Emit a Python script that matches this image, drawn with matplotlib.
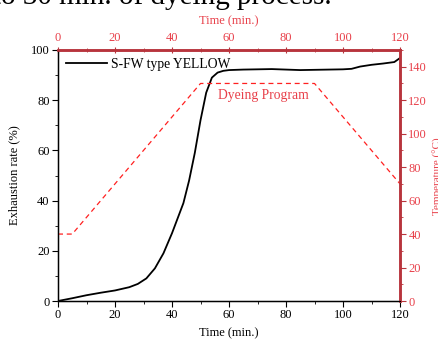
import matplotlib
matplotlib.use("Agg")
import matplotlib.pyplot as plt
from matplotlib.ticker import MultipleLocator

plt.rcParams['font.family'] = ['Liberation Serif', 'DejaVu Serif']

# Exhaustion curve
time_min = [0, 5, 10, 15, 20, 25, 28, 31, 34, 37, 40, 42, 44, 46, 48, 50, 52, 54,
            56, 58, 60, 65, 70, 75, 80, 85, 90, 95, 100, 103, 106, 110, 114, 118, 119, 120]
exhaustion = [0, 1.1, 2.3, 3.3, 4.2, 5.5, 6.8, 9.0, 13.0, 19.0, 27.0, 33.0, 39.0, 48.0,
              59.0, 72.0, 83.0, 89.0, 91.0, 91.7, 92.0, 92.2, 92.3, 92.4, 92.2, 92.0,
              92.1, 92.2, 92.3, 92.5, 93.4, 94.1, 94.6, 95.2, 96.0, 96.8]

# Dyeing program (temperature)
prog_time = [0, 5, 50, 90, 120]
prog_temp = [40, 40, 130, 130, 70]

red_txt = '#e8404a'
red_spine = '#b8343c'
red_line = '#ff2020'

fig = plt.figure(figsize=(4.38, 3.41), dpi=100)
ax = fig.add_axes([58/438, 1-301/341, 342/438, 251/341])

ax.plot(time_min, exhaustion, color='black', lw=1.3, label='S-FW type YELLOW')
ax.set_xlim(0, 120)
ax.set_ylim(0, 100)
ax.xaxis.set_major_locator(MultipleLocator(20))
ax.xaxis.set_minor_locator(MultipleLocator(10))
ax.yaxis.set_major_locator(MultipleLocator(20))
ax.yaxis.set_minor_locator(MultipleLocator(10))
ax.tick_params(axis='both', which='major', direction='out', length=4, labelsize=9, pad=2)
ax.tick_params(axis='both', which='minor', direction='out', length=2)
ax.tick_params(top=False, right=False)
ax.set_xlabel('Time (min.)', fontsize=9, labelpad=4)
ax.set_ylabel('Exhaustion rate (%)', fontsize=9, labelpad=8)
for s in ['left', 'bottom']:
    ax.spines[s].set_linewidth(1.0)
    ax.spines[s].set_color('#333333')
ax.legend(loc='upper left', frameon=False, fontsize=9.8, handlelength=3,
          borderaxespad=0.2, handletextpad=0.3)

ax2 = ax.twinx()
ax2.plot(prog_time, prog_temp, color=red_line, lw=0.9, ls=(0, (4, 3)))
ax2.set_ylim(0, 150)
ax2.yaxis.set_major_locator(MultipleLocator(20))
ax2.yaxis.set_minor_locator(MultipleLocator(10))
ax2.tick_params(axis='y', which='major', direction='out', length=4, labelsize=9,
                colors=red_spine, labelcolor=red_txt, pad=2)
ax2.tick_params(axis='y', which='minor', direction='out', length=2, colors=red_spine)
ax2.spines['right'].set_color(red_spine)
ax2.spines['right'].set_linewidth(1.8)
ax2.spines['top'].set_color(red_spine)
ax2.spines['top'].set_linewidth(1.8)
ax2.text(72, 123, 'Dyeing Program', color=red_txt, fontsize=9.8, ha='center', va='center')

ax3 = ax.twiny()
ax3.set_xlim(0, 120)
ax3.xaxis.set_major_locator(MultipleLocator(20))
ax3.xaxis.set_minor_locator(MultipleLocator(10))
ax3.tick_params(axis='x', which='major', direction='inout', length=4, labelsize=9,
                colors=red_spine, labelcolor=red_txt, pad=2)
ax3.tick_params(axis='x', which='minor', direction='inout', length=3, colors=red_spine)
ax3.set_xlabel('Time (min.)', fontsize=9, color=red_txt, labelpad=6)
ax3.spines['top'].set_color(red_spine)
ax3.spines['top'].set_linewidth(1.8)
ax3.spines['right'].set_color(red_spine)
ax3.spines['right'].set_linewidth(1.8)

fig.text(433/438, 165/341, 'Temperature (°C)', rotation=90, color=red_txt,
         fontsize=8, ha='left', va='center')
fig.text(-7/438, 1-4/341, 'to 30 min. of dyeing process.', fontsize=21,
         ha='left', va='baseline', color='black')

fig.savefig('out.png', dpi=100)
